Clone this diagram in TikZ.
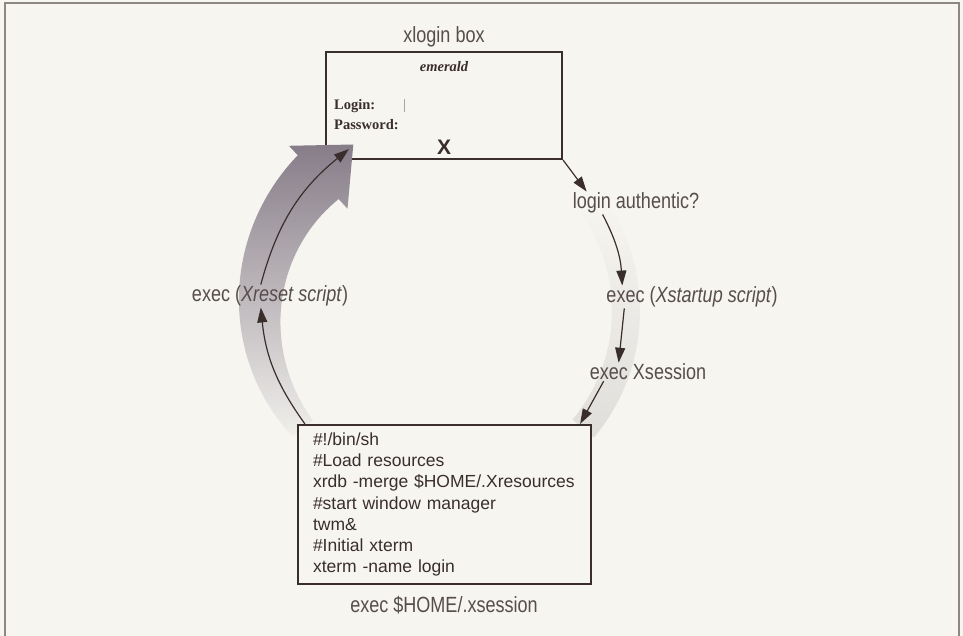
\documentclass[tikz,border=0pt]{standalone}
\usepackage{fontspec}
\setmainfont{Liberation Serif}
\newfontfamily\labelfont[FakeStretch=0.82]{Liberation Sans}
\newfontfamily\codefont{Liberation Sans}
\usetikzlibrary{calc,positioning,arrows.meta}

\definecolor{paper}{HTML}{F6F5F0}
\definecolor{rim}{HTML}{8E8684}
\definecolor{ink}{HTML}{3A2E2C}
\definecolor{bandtop}{HTML}{877D89}
\definecolor{bandmid}{HTML}{DEDBD9}
\definecolor{bandlow}{HTML}{F1F0EC}
\definecolor{ghost}{HTML}{E0DEDB}

\begin{document}
\begin{tikzpicture}[x=1pt, y=1pt,
    box/.style={draw=ink, line width=2.2pt, fill=paper, inner sep=0pt},
    tag/.style={font=\labelfont\fontsize{22}{26}\selectfont, text=ink!85, inner sep=1pt},
    field/.style={anchor=west, font=\bfseries\fontsize{14.5}{17}\selectfont, text=ink, inner sep=0pt},
    flow/.style={draw=ink, line width=1.2pt, -{Triangle[length=15pt,width=10pt]}}
  ]
  % paper and frame
  \useasboundingbox (0,0) rectangle (963,-636);
  \fill[paper] (0,0) rectangle (963,-636);
  \draw[rim, line width=1.6pt] (5,-636) -- (5,-3) -- (959,-3) -- (959,-636);

  % faint band on the right
  \shade[top color=paper, bottom color=ghost]
    plot[domain=35:-40, samples=25] ({443+197*cos(\x)},{-311+197*sin(\x)})
    -- plot[domain=-40:35, samples=25] ({443+169*cos(\x)},{-311+169*sin(\x)}) -- cycle;

  % xlogin box
  \node[box, minimum width=236pt, minimum height=107pt] (login) at (444,-105.5) {};
  \node[tag] (title) at (444,-37) {xlogin box};
  \node[font=\bfseries\itshape\fontsize{14.5}{17}\selectfont, text=ink] (host) at (444,-67) {emerald};
  \node[field] (user) at (334,-106) {Login:};
  \node[field] (pass) at (334,-125) {Password:};
  \draw[gray!70, line width=0.8pt] (404,-99) -- (404,-112);
  \node[font=\codefont\bfseries\fontsize{21}{22}\selectfont, text=ink] (cursor) at (444,-147) {X};

  % big shaded arrow on the left
  \shade[top color=bandtop, middle color=bandmid, bottom color=bandlow]
    plot[domain=133:220, samples=40] ({443+(183+13+(220-\x)*0.195)*cos(\x)},{-311+(183+13+(220-\x)*0.195)*sin(\x)})
    -- plot[domain=220:133, samples=40] ({443+(183-13-(220-\x)*0.195)*cos(\x)},{-311+(183-13-(220-\x)*0.195)*sin(\x)})
    -- (347.5,-208.7) -- (353.3,-144.5) -- (288.9,-145.8) -- cycle;

  % .xsession box
  \node[box, text width=263pt, inner xsep=15pt, minimum height=159pt, align=left,
        font=\codefont\fontsize{17.5}{21.3}\selectfont, text=ink] (xsess) at (444.5,-504.5)
    {\#!/bin/sh\\ \#Load resources\\ xrdb -merge \$HOME/.Xresources\\ \#start window manager\\ twm\&\\ \#Initial xterm\\ xterm -name login};

  % labels
  \node[tag] (auth) at (636,-203) {login authentic?};
  \node[tag] (startup) at (692,-297) {exec (\textit{Xstartup script})};
  \node[tag] (session) at (648,-372) {exec Xsession};
  \node[tag] (reset) at (270,-296) {exec (\textit{Xreset script})};
  \node[tag] (home) at (444,-605) {exec \$HOME/.xsession};

  % flow
  \draw[flow] (login.south east) -- ($(auth.north west)+(15,0)$);
  \draw[flow] ($(auth.south west)+(31,0)$) to[bend left=12] ($(startup.north west)+(17,0)$);
  \draw[flow] ($(startup.south west)+(19,0)$) -- ($(session.north west)+(30,0)$);
  \draw[flow] ($(session.south west)+(15,0)$) -- ($(xsess.north east)+(-12,0)$);
  \draw[flow] ($(xsess.north west)+(8,0)$) to[bend left=15] ($(reset.south west)+(70,0)$);
  \draw[flow] ($(reset.north west)+(70,0)$) to[bend left=18] ($(login.south west)+(24,11)$);
\end{tikzpicture}
\end{document}
